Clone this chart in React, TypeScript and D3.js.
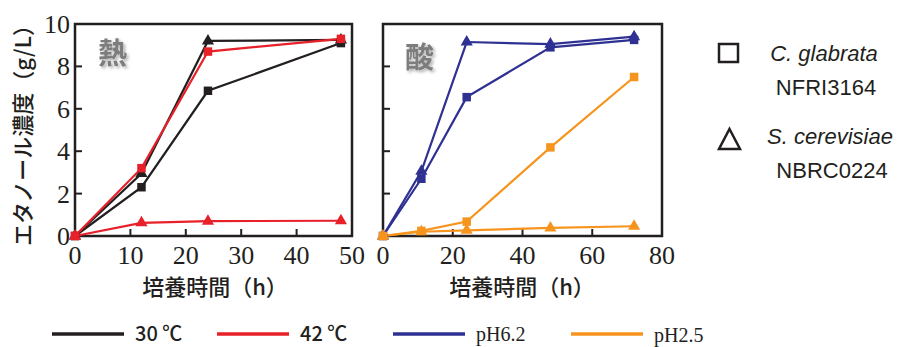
import React, { useEffect, useRef } from "react";
import * as d3 from "d3";

// heat panel (熱)
const heatTime = [0, 12, 24, 48];
const heat30Glabrata = [0, 2.3, 6.85, 9.1];
const heat30Cerevisiae = [0, 2.95, 9.2, 9.25];
const heat42Glabrata = [0, 3.2, 8.7, 9.3];
const heat42Cerevisiae = [0, 0.62, 0.7, 0.72];

// acid panel (酸)
const acidTime = [0, 11, 24, 48, 72];
const ph62Glabrata = [0, 2.7, 6.55, 8.9, 9.25];
const ph62Cerevisiae = [0, 3.05, 9.15, 9.05, 9.4];
const ph25Glabrata = [0, 0.24, 0.68, 4.18, 7.5];
const ph25Cerevisiae = [0, 0.2, 0.27, 0.38, 0.46];

const yTicks = [0, 2, 4, 6, 8, 10];
const heatXTicks = [0, 10, 20, 30, 40, 50];
const acidXTicks = [0, 20, 40, 60, 80];

const BLACK = "#231f20";
const RED = "#e8202a";
const BLUE = "#2e3192";
const ORANGE = "#f7941d";

const JP = "'Noto Sans CJK JP', sans-serif";
const SERIF = "'Liberation Serif', 'DejaVu Serif', serif";
const SANS = "'Liberation Sans', Arial, sans-serif";

function drawPanel(svg, opts) {
  const { x0, x1, xMax, xTicks, times, series, title, titleX, titleY, yLabels, xTitleX } = opts;
  const x = d3.scaleLinear().domain([0, xMax]).range([x0, x1]);
  const y = d3.scaleLinear().domain([0, 10]).range([236, 24]);
  const g = svg.append("g");

  // frame
  g.append("rect")
    .attr("x", x0)
    .attr("y", y(10))
    .attr("width", x1 - x0)
    .attr("height", y(0) - y(10))
    .attr("fill", "none")
    .attr("stroke", BLACK)
    .attr("stroke-width", 2.5);

  // inner ticks
  g.selectAll(".xt")
    .data(xTicks.slice(1, -1))
    .join("line")
    .attr("x1", d => x(d))
    .attr("x2", d => x(d))
    .attr("y1", y(0))
    .attr("y2", y(0) - 7)
    .attr("stroke", BLACK)
    .attr("stroke-width", 2);
  g.selectAll(".yt")
    .data(yTicks.slice(1, -1))
    .join("line")
    .attr("x1", x0)
    .attr("x2", x0 + 7)
    .attr("y1", d => y(d))
    .attr("y2", d => y(d))
    .attr("stroke", BLACK)
    .attr("stroke-width", 2);

  // tick labels
  g.selectAll(".xl")
    .data(xTicks)
    .join("text")
    .attr("x", d => x(d))
    .attr("y", 264)
    .attr("text-anchor", "middle")
    .attr("font-family", SERIF)
    .attr("font-size", 26)
    .attr("fill", BLACK)
    .text(d => d);
  if (yLabels) {
    g.selectAll(".yl")
      .data(yTicks)
      .join("text")
      .attr("x", x0 - 5)
      .attr("y", d => y(d) + 9)
      .attr("text-anchor", "end")
      .attr("font-family", SERIF)
      .attr("font-size", 26)
      .attr("fill", BLACK)
      .text(d => d);
  }

  // x title
  g.append("text")
    .attr("x", xTitleX)
    .attr("y", 295)
    .attr("text-anchor", "middle")
    .attr("font-family", JP)
    .attr("font-weight", 500)
    .attr("font-size", 22)
    .attr("fill", BLACK)
    .text("培養時間（h）");

  // panel title with soft shadow
  g.append("text")
    .attr("x", titleX)
    .attr("y", titleY)
    .attr("font-family", JP)
    .attr("font-weight", 700)
    .attr("font-size", 29)
    .attr("fill", "#7d7d7d")
    .attr("filter", "url(#shadow)")
    .text(title);

  const line = d3
    .line()
    .x((d, i) => x(times[i]))
    .y(d => y(d));

  series.forEach(s => {
    g.append("path")
      .datum(s.values)
      .attr("d", line)
      .attr("fill", "none")
      .attr("stroke", s.color)
      .attr("stroke-width", 2.2);
  });
  series.forEach(s => {
    const sym = d3
      .symbol()
      .type(s.shape === "square" ? d3.symbolSquare : d3.symbolTriangle)
      .size(s.shape === "square" ? 72 : 64);
    g.selectAll(null)
      .data(s.values)
      .join("path")
      .attr("d", sym)
      .attr("transform", (d, i) => `translate(${x(times[i])},${y(d)})`)
      .attr("fill", s.color);
  });
}

export default function App() {
  const ref = useRef(null);

  useEffect(() => {
    const svg = d3.select(ref.current);
    svg.selectAll("*").remove();

    const defs = svg.append("defs");
    defs
      .append("filter")
      .attr("id", "shadow")
      .attr("x", "-30%")
      .attr("y", "-30%")
      .attr("width", "160%")
      .attr("height", "160%")
      .append("feDropShadow")
      .attr("dx", 2)
      .attr("dy", 2)
      .attr("stdDeviation", 1.5)
      .attr("flood-color", "#000")
      .attr("flood-opacity", 0.3);

    drawPanel(svg, {
      x0: 75,
      x1: 352,
      xMax: 50,
      xTicks: heatXTicks,
      times: heatTime,
      yLabels: true,
      title: "熱",
      titleX: 98,
      titleY: 64,
      xTitleX: 215,
      series: [
        { values: heat30Glabrata, color: BLACK, shape: "square" },
        { values: heat30Cerevisiae, color: BLACK, shape: "triangle" },
        { values: heat42Glabrata, color: RED, shape: "square" },
        { values: heat42Cerevisiae, color: RED, shape: "triangle" }
      ]
    });

    drawPanel(svg, {
      x0: 383,
      x1: 662,
      xMax: 80,
      xTicks: acidXTicks,
      times: acidTime,
      yLabels: false,
      title: "酸",
      titleX: 405,
      titleY: 68,
      xTitleX: 522,
      series: [
        { values: ph62Cerevisiae, color: BLUE, shape: "triangle" },
        { values: ph62Glabrata, color: BLUE, shape: "square" },
        { values: ph25Glabrata, color: ORANGE, shape: "square" },
        { values: ph25Cerevisiae, color: ORANGE, shape: "triangle" }
      ]
    });

    // y title
    svg
      .append("text")
      .attr("transform", "translate(31,130) rotate(-90)")
      .attr("text-anchor", "middle")
      .attr("font-family", JP)
      .attr("font-weight", 500)
      .attr("font-size", 22)
      .attr("fill", BLACK)
      .text("エタノール濃度（g/L）");

    // strain legend
    const leg = svg.append("g");
    leg.append("rect")
      .attr("x", 719)
      .attr("y", 44)
      .attr("width", 19)
      .attr("height", 18)
      .attr("fill", "none")
      .attr("stroke", BLACK)
      .attr("stroke-width", 2.5);
    leg.append("path")
      .attr("d", "M729.5,129 L740,149 L719,149 Z")
      .attr("fill", "none")
      .attr("stroke", BLACK)
      .attr("stroke-width", 2.5)
      .attr("stroke-linejoin", "miter");
    const legText = [
      { t: "C. glabrata", x: 824, y: 61, italic: true },
      { t: "NFRI3164", x: 826, y: 95, italic: false },
      { t: "S. cerevisiae", x: 830, y: 144, italic: true },
      { t: "NBRC0224", x: 832, y: 178, italic: false }
    ];
    leg.selectAll(null)
      .data(legText)
      .join("text")
      .attr("x", d => d.x)
      .attr("y", d => d.y)
      .attr("text-anchor", "middle")
      .attr("font-family", SANS)
      .attr("font-style", d => (d.italic ? "italic" : "normal"))
      .attr("font-size", 22)
      .attr("fill", BLACK)
      .text(d => d.t);

    // condition legend
    const condLegend = [
      { label: "30 ℃", color: BLACK, x: 52, ty: 341, font: JP },
      { label: "42 ℃", color: RED, x: 217, ty: 341, font: JP },
      { label: "pH6.2", color: BLUE, x: 393, ty: 341, font: SERIF },
      { label: "pH2.5", color: ORANGE, x: 571, ty: 342, font: SERIF }
    ];
    const cl = svg.append("g");
    cl.selectAll(null)
      .data(condLegend)
      .join("line")
      .attr("x1", d => d.x)
      .attr("x2", d => d.x + 72)
      .attr("y1", 334)
      .attr("y2", 334)
      .attr("stroke", d => d.color)
      .attr("stroke-width", 3.5);
    cl.selectAll(null)
      .data(condLegend)
      .join("text")
      .attr("x", d => d.x + 83)
      .attr("y", d => d.ty)
      .attr("font-family", d => d.font)
      .attr("font-weight", d => (d.font === JP ? 500 : 400))
      .attr("font-size", 20)
      .attr("fill", BLACK)
      .text(d => d.label);
  }, []);

  return (
    <div>
      <svg
        ref={ref}
        width={902}
        height={347}
        style={{ position: "absolute", left: 0, top: 0, background: "#fff" }}
      />
    </div>
  );
}
